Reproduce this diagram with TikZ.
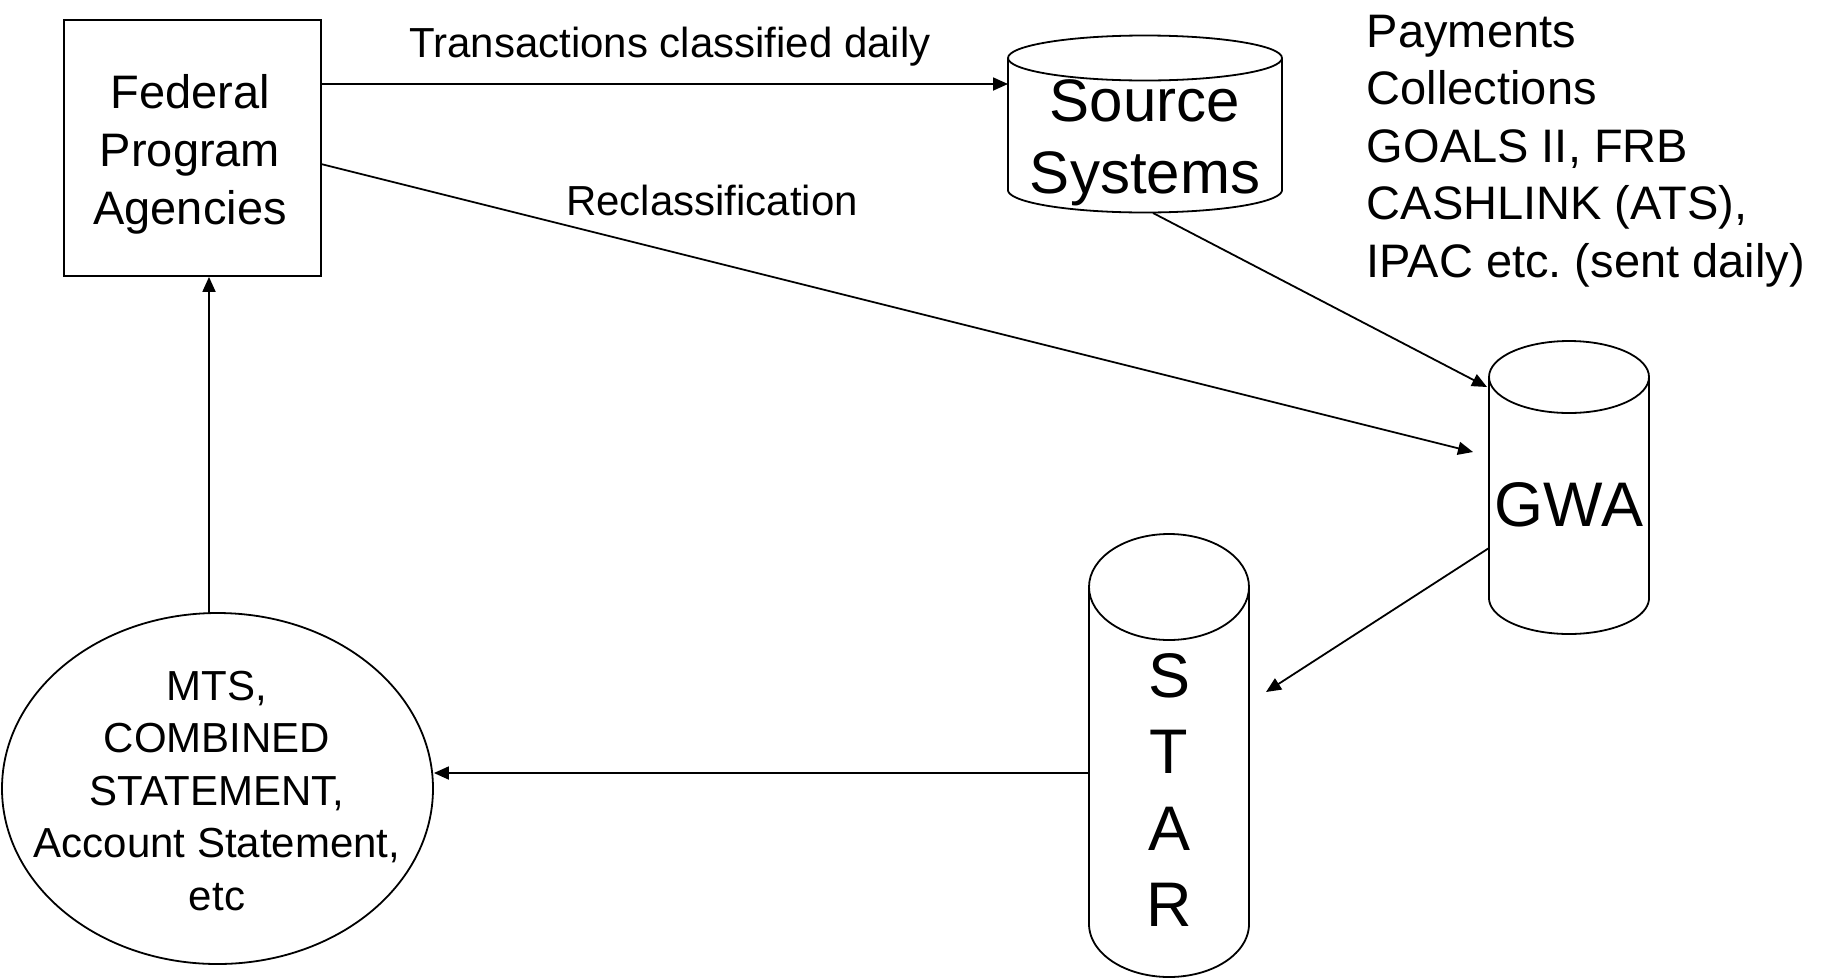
\documentclass[tikz,border=0pt]{standalone}
\usepackage{fontspec}
\setmainfont{Liberation Sans}
\usetikzlibrary{arrows.meta,shapes.geometric}
\frenchspacing
\newcommand{\dbcyl}[5]{% cx, top centre y, bottom centre y, rx, ry
  \draw ({#1-#4},#2) -- ({#1-#4},#3) -- plot[domain=180:360,samples=72,smooth] ({#1+#4*cos(\x)},{#3-#5*sin(\x)}) -- ({#1+#4},#2);
  \draw (#1,#2) ellipse [x radius=#4pt, y radius=#5pt];
}
\begin{document}
\begin{tikzpicture}[x=1pt,y=-1pt,line width=1.8pt,
  arr/.style={-{Triangle[length=15pt,width=13pt]}},
  lbl/.style={inner sep=0pt,font=\fontsize{42}{51}\selectfont}]
\fill[white] (0,0) rectangle (1833,978);
\useasboundingbox (0,0) rectangle (1833,978);

% Federal Program Agencies
\node[draw,minimum width=257pt,minimum height=256pt,inner sep=0pt] (fpa) at (192.5,148) {};
\node[inner sep=0pt,align=center,font=\fontsize{47}{58}\selectfont] (fpatext) at (190,154.5) {Federal\\Program\\Agencies};

% cylinders
\dbcyl{1145}{58}{190}{137}{22.5}
\dbcyl{1569}{377}{598}{80}{36}
\dbcyl{1169}{587}{924}{80}{53}

\node[inner sep=0pt,align=center,font=\fontsize{60}{72}\selectfont] (src) at (1145,143) {Source\\Systems};
\node[inner sep=0pt,font=\fontsize{63}{76}\selectfont] (gwa) at (1569,505) {GWA};
\node[inner sep=0pt,align=center,font=\fontsize{63}{76.5}\selectfont] (star) at (1169,790) {S\\T\\A\\R};

% list of source systems
\node[anchor=west,align=left,inner sep=0pt,font=\fontsize{47}{57.5}\selectfont] (list) at (1366,151)
  {Payments\\Collections\\GOALS II, FRB\\CASHLINK (ATS),\\IPAC etc. (sent daily)};

% reports ellipse
\node[draw,ellipse,minimum width=431pt,minimum height=351pt,inner sep=0pt] (rep) at (217.5,788.5) {};
\node[inner sep=0pt,align=center,font=\fontsize{42}{52.5}\selectfont] (reptxt) at (217,791)
  {MTS,\\COMBINED\\STATEMENT,\\Account Statement,\\etc};

% labels
\node[lbl,anchor=base] (l1) at (670,57) {Transactions classified daily};
\node[lbl,anchor=base] (l2) at (712,215) {Reclassification};

% connector end points
\coordinate (srcin) at (1008,84);
\coordinate (srcout) at (1153,213);
\coordinate (gwain1) at (1487,387);
\coordinate (fpaout) at (321,164);
\coordinate (gwain2) at (1473,452);
\coordinate (gwaout) at (1489,548);
\coordinate (starin) at (1266,692);
\coordinate (starout) at (1089,773);
\coordinate (repout) at (209,613);

% connectors
\draw[arr] (fpa.east |- srcin) -- (srcin);
\draw[arr] (fpaout) -- (gwain2);
\draw[arr] (srcout) -- (gwain1);
\draw[arr] (gwaout) -- (starin);
\draw[arr] (starout) -- (rep.east |- starout);
\draw[arr] (repout) -- (fpa.south -| repout);
\end{tikzpicture}
\end{document}
